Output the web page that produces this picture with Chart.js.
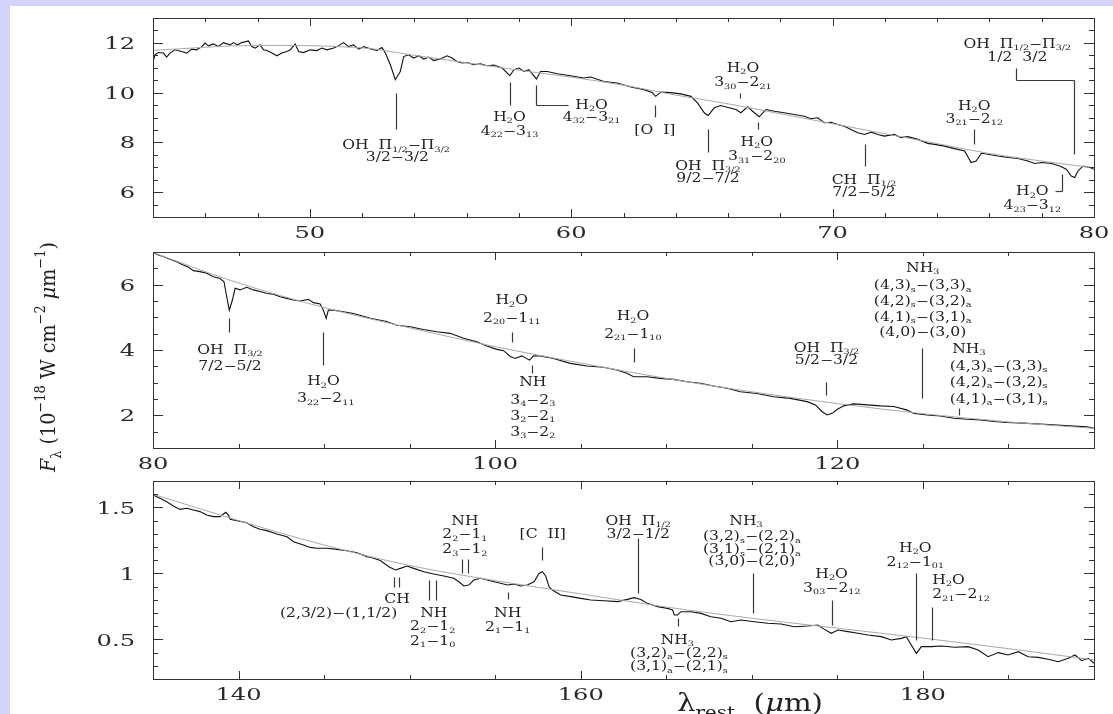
<!DOCTYPE html>
<html>
<head>
<meta charset="utf-8">
<script src="https://cdn.jsdelivr.net/npm/chart.js@4.4.1/dist/chart.umd.min.js"></script>
<style>
  html, body { margin: 0; padding: 0; }
  body { width: 1113px; height: 714px; background: #d3d3fb; position: relative; overflow: hidden; }
  #sheet { position: absolute; left: 10px; top: 6px; right: 0; bottom: 0; background: #fff; }
  canvas { position: absolute; left: 0; top: 0; }
</style>
</head>
<body>
<div id="sheet"></div>
<canvas id="c1" width="1113" height="714"></canvas>
<canvas id="c2" width="1113" height="714"></canvas>
<canvas id="c3" width="1113" height="714"></canvas>
<script>
// ---- panel 1 : 44-80 micron ----
const p1XRange = [44, 80];
const p1YRange = [5, 13];
const p1XTicks = [50, 60, 70, 80];
const p1YTicks = [6, 8, 10, 12];
const p1Wave = [44.00,44.08,44.20,44.40,44.52,44.65,44.84,45.10,45.29,45.48,45.67,45.87,45.99,46.12,46.31,46.50,46.69,46.95,47.08,47.23,47.40,47.65,47.78,47.91,48.10,48.23,48.36,48.55,48.74,48.93,49.12,49.25,49.44,49.57,49.76,50.02,50.27,50.46,50.66,50.91,51.04,51.29,51.48,51.67,51.87,52.06,52.31,52.57,52.76,52.89,53.08,53.27,53.46,53.59,53.78,53.97,54.17,54.36,54.55,54.74,54.99,55.25,55.44,55.63,55.83,56.02,56.27,56.53,56.78,57.04,57.36,57.65,57.81,58.00,58.19,58.38,58.67,58.83,59.08,59.47,59.98,60.49,60.74,61.25,61.76,62.28,62.79,63.11,63.23,63.43,63.81,64.19,64.58,64.83,65.09,65.24,65.47,65.72,66.04,66.30,66.49,66.75,66.94,67.19,67.45,67.77,68.15,68.53,68.92,69.17,69.43,69.68,69.94,70.19,70.45,70.70,70.96,71.22,71.47,71.73,71.98,72.36,72.62,72.88,73.26,73.64,73.90,74.28,74.66,75.05,75.30,75.49,75.69,75.94,76.32,76.71,77.09,77.47,77.73,77.98,78.37,78.69,78.94,79.13,79.26,79.39,79.58,79.84,80.00];
const p1Flux = [11.25,11.52,11.61,11.59,11.43,11.59,11.72,11.65,11.59,11.75,11.72,11.85,11.99,11.88,11.96,11.85,12.01,11.92,12.01,11.92,12.01,12.08,11.85,11.79,11.92,11.72,11.69,11.59,11.48,11.59,11.65,11.72,11.95,11.65,11.61,11.72,11.69,11.79,11.72,11.79,11.85,12.01,11.85,11.92,11.75,11.85,11.76,11.70,11.81,11.59,11.12,10.52,10.85,11.45,11.52,11.39,11.48,11.35,11.43,11.29,11.35,11.48,11.39,11.25,11.19,11.21,11.12,11.16,11.08,11.11,10.99,10.68,10.92,10.99,10.85,10.92,10.55,10.85,10.85,10.76,10.68,10.59,10.63,10.45,10.39,10.23,10.12,10.00,9.85,10.02,10.00,9.95,9.85,9.59,9.19,9.08,9.39,9.48,9.39,9.32,9.19,9.43,9.25,9.03,9.32,9.25,9.19,9.12,9.05,8.95,8.99,8.79,8.81,8.72,8.65,8.52,8.39,8.32,8.41,8.32,8.25,8.32,8.19,8.23,8.12,7.96,7.92,7.85,7.75,7.65,7.19,7.25,7.56,7.52,7.45,7.39,7.35,7.25,7.15,7.19,7.15,7.05,6.92,6.65,6.59,6.85,7.05,6.99,6.92];
const p1ContWave = [44, 48, 52, 54, 56, 58, 60, 62, 64, 66, 68, 70, 72, 74, 76, 78, 80];
const p1ContFlux = [11.7, 11.9, 11.8, 11.5, 11.2, 10.9, 10.62, 10.3, 9.9, 9.55, 9.15, 8.75, 8.35, 7.95, 7.55, 7.25, 6.97];
// line marks: [x1, y1, x2, y2] in micron / flux
const p1Marks = [
  [53.31, 10.0, 53.31, 8.52],
  [57.64, 10.44, 57.64, 9.52],
  [58.67, 10.32, 58.67, 9.52], [58.67, 9.52, 59.86, 9.52],
  [63.2, 9.52, 63.2, 9.04],
  [65.23, 8.52, 65.23, 7.6],
  [66.45, 10.0, 66.45, 9.8],
  [67.13, 8.8, 67.13, 8.52],
  [71.24, 7.92, 71.24, 7.04],
  [75.42, 8.52, 75.42, 7.92],
  [77.03, 11.0, 77.03, 10.52], [77.03, 10.52, 79.25, 10.52], [79.25, 10.52, 79.25, 7.52],
  [78.79, 6.72, 78.79, 6.04], [78.49, 6.04, 78.79, 6.04]
];
const p1Labels = [
  [53.3, 7.9, 'OH  Π_{1/2}−Π_{3/2}', 'c'],
  [53.35, 7.44, '3/2−3/2', 'c'],
  [57.64, 9.04, 'H_{2}O', 'c'],
  [57.64, 8.48, '4_{22}−3_{13}', 'c'],
  [60.78, 9.52, 'H_{2}O', 'c'],
  [60.78, 9.04, '4_{32}−3_{21}', 'c'],
  [63.2, 8.52, '[O  I]', 'c'],
  [65.23, 7.06, 'OH  Π_{3/2}', 'c'],
  [65.23, 6.58, '9/2−7/2', 'c'],
  [66.57, 11.0, 'H_{2}O', 'c'],
  [66.57, 10.42, '3_{30}−2_{21}', 'c'],
  [67.1, 8.04, 'H_{2}O', 'c'],
  [67.1, 7.46, '3_{31}−2_{20}', 'c'],
  [71.2, 6.5, 'CH  Π_{1/2}', 'c'],
  [71.2, 6.02, '7/2−5/2', 'c'],
  [75.42, 9.48, 'H_{2}O', 'c'],
  [75.42, 8.96, '3_{21}−2_{12}', 'c'],
  [77.07, 11.98, 'OH  Π_{1/2}−Π_{3/2}', 'c'],
  [77.07, 11.46, '1/2  3/2', 'c'],
  [77.64, 6.04, 'H_{2}O', 'c'],
  [77.64, 5.48, '4_{23}−3_{12}', 'c']
];

// ---- panel 2 : 80-135 micron ----
const p2XRange = [80, 135];
const p2YRange = [1, 7];
const p2XTicks = [80, 100, 120];
const p2YTicks = [2, 4, 6];
const p2Wave = [80.00,80.31,80.60,80.99,81.38,81.77,82.07,82.36,82.75,83.14,83.53,83.92,84.15,84.31,84.46,84.64,84.80,85.09,85.48,85.87,86.26,86.65,87.04,87.43,87.82,88.21,88.60,89.08,89.38,89.77,89.96,90.12,90.25,90.55,91.13,91.72,92.50,92.69,93.66,94.25,95.03,95.81,96.59,97.37,98.15,98.93,99.51,100.10,100.49,100.88,101.17,101.56,102.01,102.24,102.63,103.41,104.39,105.36,106.33,107.11,107.70,108.09,108.87,109.65,110.43,111.21,111.99,112.77,113.55,114.33,115.30,116.28,117.25,118.23,118.72,119.11,119.40,119.69,119.98,120.37,120.96,121.74,122.52,123.30,124.08,124.47,125.25,126.03,126.81,127.59,128.37,129.14,129.92,130.90,131.87,132.85,133.82,134.60,135.00];
const p2Flux = [6.98,6.91,6.86,6.78,6.70,6.60,6.53,6.43,6.40,6.35,6.24,6.19,6.09,5.63,5.22,5.53,5.89,5.84,5.92,5.84,5.79,5.73,5.71,5.63,5.58,5.53,5.50,5.55,5.45,5.41,5.22,4.97,5.22,5.22,5.17,5.12,5.00,4.97,4.87,4.76,4.71,4.63,4.56,4.51,4.36,4.25,4.12,4.02,3.98,3.80,3.74,3.82,3.69,3.82,3.82,3.74,3.59,3.51,3.47,3.39,3.29,3.18,3.18,3.13,3.10,3.03,2.98,2.90,2.83,2.72,2.67,2.57,2.52,2.42,2.32,2.11,2.01,2.06,2.18,2.29,2.35,2.32,2.29,2.27,2.16,2.06,2.01,1.98,1.91,1.88,1.86,1.81,1.78,1.76,1.73,1.70,1.67,1.65,1.60];
const p2ContWave = [80, 85, 90, 95, 100, 105, 110, 115, 120, 125, 130, 135];
const p2ContFlux = [6.98, 6.05, 5.3, 4.68, 4.1, 3.6, 3.13, 2.72, 2.36, 2.05, 1.8, 1.6];
const p2Marks = [
  [84.46, 4.97, 84.46, 4.56],
  [89.96, 4.55, 89.96, 3.54],
  [100.97, 4.56, 100.97, 4.25],
  [102.15, 3.54, 102.15, 3.31],
  [108.09, 4.05, 108.09, 3.64],
  [119.36, 3.03, 119.36, 2.62],
  [124.95, 4.05, 124.95, 2.52],
  [127.09, 2.22, 127.09, 2.01]
];
const p2Labels = [
  [84.5, 4.02, 'OH  Π_{3/2}', 'c'],
  [84.5, 3.52, '7/2−5/2', 'c'],
  [89.96, 3.05, 'H_{2}O', 'c'],
  [90.1, 2.53, '3_{22}−2_{11}', 'c'],
  [100.97, 5.53, 'H_{2}O', 'c'],
  [100.97, 5.0, '2_{20}−1_{11}', 'c'],
  [102.2, 3.04, 'NH', 'c'],
  [102.2, 2.49, '3_{4}−2_{3}', 'c'],
  [102.2, 1.99, '3_{2}−2_{1}', 'c'],
  [102.2, 1.50, '3_{3}−2_{2}', 'c'],
  [108.05, 5.04, 'H_{2}O', 'c'],
  [108.05, 4.50, '2_{21}−1_{10}', 'c'],
  [119.36, 4.08, 'OH  Π_{3/2}', 'c'],
  [119.36, 3.70, '5/2−3/2', 'c'],
  [124.99, 6.53, 'NH_{3}', 'c'],
  [124.99, 5.99, '(4,3)_{s}−(3,3)_{a}', 'c'],
  [124.99, 5.51, '(4,2)_{s}−(3,2)_{a}', 'c'],
  [124.99, 5.02, '(4,1)_{s}−(3,1)_{a}', 'c'],
  [124.99, 4.55, '(4,0)−(3,0)', 'c'],
  [126.71, 4.04, 'NH_{3}', 'l'],
  [126.57, 3.53, '(4,3)_{a}−(3,3)_{s}', 'l'],
  [126.57, 3.03, '(4,2)_{a}−(3,2)_{s}', 'l'],
  [126.57, 2.52, '(4,1)_{a}−(3,1)_{s}', 'l']
];

// ---- panel 3 : 135-190 micron ----
const p3XRange = [135, 190];
const p3YRange = [0.2, 1.7];
const p3XTicks = [140, 160, 180];
const p3YTicks = [0.5, 1, 1.5];
const p3Wave = [135.00,135.41,135.80,136.19,136.58,136.97,137.36,137.75,138.14,138.53,138.92,139.12,139.25,139.41,139.51,139.90,140.48,140.87,141.26,141.65,142.24,142.83,143.22,143.61,143.80,144.19,144.58,145.17,145.75,146.34,146.92,147.51,147.71,148.29,148.78,149.17,149.46,149.85,150.24,150.83,151.41,152.00,152.58,152.88,153.17,153.46,153.75,154.15,154.54,154.93,155.32,155.71,156.10,156.49,156.88,157.27,157.56,157.76,157.95,158.15,158.34,158.83,159.41,160.00,160.59,161.37,162.15,162.73,163.12,163.51,163.90,164.49,165.07,165.37,165.47,165.66,165.86,166.44,167.03,167.61,168.20,168.78,169.37,170.15,170.93,171.71,172.49,173.27,173.86,174.25,174.64,175.03,175.62,176.20,176.79,177.57,178.15,178.74,179.03,179.32,179.62,179.91,180.49,181.08,181.86,182.64,183.23,183.81,184.40,184.98,185.57,186.15,186.74,187.32,187.91,188.50,188.89,189.28,189.67,190.00];
const p3Flux = [1.594,1.569,1.543,1.511,1.485,1.493,1.480,1.468,1.442,1.430,1.430,1.450,1.463,1.442,1.410,1.400,1.384,1.354,1.334,1.324,1.298,1.278,1.240,1.223,1.215,1.197,1.190,1.190,1.182,1.172,1.157,1.127,1.122,1.097,1.051,1.026,1.038,1.056,1.038,1.013,0.995,0.980,0.963,0.937,0.905,0.912,0.950,0.963,0.950,0.937,0.925,0.912,0.920,0.905,0.912,0.937,1.000,1.013,0.980,0.900,0.874,0.836,0.824,0.811,0.798,0.793,0.786,0.803,0.816,0.803,0.773,0.748,0.735,0.723,0.685,0.685,0.710,0.710,0.697,0.672,0.660,0.634,0.647,0.634,0.622,0.617,0.596,0.601,0.609,0.576,0.546,0.571,0.559,0.546,0.533,0.521,0.496,0.508,0.521,0.458,0.394,0.445,0.445,0.450,0.440,0.445,0.420,0.369,0.400,0.382,0.407,0.369,0.364,0.349,0.331,0.357,0.382,0.339,0.357,0.319];
const p3ContWave = [135, 140, 145, 150, 155, 160, 165, 170, 175, 180, 185, 190];
const p3ContFlux = [1.6, 1.40, 1.215, 1.06, 0.945, 0.845, 0.745, 0.66, 0.585, 0.51, 0.43, 0.345];
const p3Marks = [
  [149.07, 0.975, 149.07, 0.90], [149.38, 0.975, 149.38, 0.90],
  [151.12, 0.95, 151.12, 0.80], [151.55, 0.95, 151.55, 0.80],
  [153.07, 1.107, 153.07, 1.0], [153.4, 1.107, 153.4, 1.0],
  [155.75, 0.861, 155.75, 0.804],
  [157.76, 1.202, 157.76, 1.10],
  [163.32, 1.266, 163.32, 0.849],
  [165.66, 0.66, 165.66, 0.60],
  [170.05, 1.0, 170.05, 0.70],
  [174.68, 0.80, 174.68, 0.61],
  [179.57, 1.0, 179.57, 0.495],
  [180.53, 0.748, 180.53, 0.495]
];
const p3Labels = [
  [149.26, 0.808, 'CH', 'c'],
  [145.85, 0.702, '(2,3/2)−(1,1/2)', 'c'],
  [151.41, 0.70, 'NH', 'c'],
  [151.35, 0.602, '2_{2}−1_{2}', 'c'],
  [151.35, 0.49, '2_{1}−1_{0}', 'c'],
  [153.23, 1.40, 'NH', 'c'],
  [153.23, 1.30, '2_{2}−1_{1}', 'c'],
  [153.23, 1.185, '2_{3}−1_{2}', 'c'],
  [155.73, 0.70, 'NH', 'c'],
  [155.73, 0.596, '2_{1}−1_{1}', 'c'],
  [157.78, 1.30, '[C  II]', 'c'],
  [163.36, 1.40, 'OH  Π_{1/2}', 'c'],
  [163.36, 1.30, '3/2−1/2', 'c'],
  [165.64, 0.50, 'NH_{3}', 'c'],
  [165.74, 0.40, '(3,2)_{a}−(2,2)_{s}', 'c'],
  [165.74, 0.30, '(3,1)_{a}−(2,1)_{s}', 'c'],
  [169.66, 1.40, 'NH_{3}', 'c'],
  [170.0, 1.285, '(3,2)_{s}−(2,2)_{a}', 'c'],
  [170.0, 1.185, '(3,1)_{s}−(2,1)_{a}', 'c'],
  [170.0, 1.096, '(3,0)−(2,0)', 'c'],
  [174.66, 1.0, 'H_{2}O', 'c'],
  [174.68, 0.895, '3_{03}−2_{12}', 'c'],
  [179.56, 1.198, 'H_{2}O', 'c'],
  [179.56, 1.089, '2_{12}−1_{01}', 'c'],
  [180.55, 0.955, 'H_{2}O', 'l'],
  [180.55, 0.844, '2_{21}−2_{12}', 'l']
];

const FONT = 'DejaVu Serif';
const INK = '#222';

// tiny rich text: _{sub}  ^{sup}  *{italic}
function richParts(s) {
  const out = [];
  let buf = '', i = 0;
  while (i < s.length) {
    const c = s[i];
    if ((c === '_' || c === '^' || c === '*') && s[i + 1] === '{') {
      if (buf) { out.push({ t: buf, m: 0 }); buf = ''; }
      const j = s.indexOf('}', i);
      out.push({ t: s.slice(i + 2, j), m: c === '_' ? 1 : c === '^' ? 2 : 3 });
      i = j + 1;
    } else { buf += c; i++; }
  }
  if (buf) out.push({ t: buf, m: 0 });
  return out;
}

function drawRich(ctx, s, x, y, o) {
  const size = o.size;
  const sub = o.sub || 0.62;
  const parts = richParts(s);
  const fontFor = p => {
    const sz = (p.m === 1 || p.m === 2) ? size * sub : size;
    return (p.m === 3 ? 'italic ' : '') + sz + 'px "' + FONT + '"';
  };
  let W = 0;
  parts.forEach(p => { ctx.font = fontFor(p); p.w = ctx.measureText(p.t).width; W += p.w; });
  const sx = o.width ? o.width / W : (o.sx || 1);
  ctx.save();
  ctx.translate(x, y);
  if (o.rot) ctx.rotate(o.rot);
  ctx.scale(sx, 1);
  let cx = o.align === 'l' ? 0 : o.align === 'r' ? -W : -W / 2;
  const base = size * 0.36;
  ctx.textBaseline = 'alphabetic';
  ctx.textAlign = 'left';
  ctx.fillStyle = o.color || INK;
  parts.forEach(p => {
    ctx.font = fontFor(p);
    const dy = p.m === 1 ? size * (o.drop || 0.2) : p.m === 2 ? -size * 0.45 : 0;
    ctx.fillText(p.t, cx, base + dy);
    cx += p.w;
  });
  ctx.restore();
}

function framePlugin(p) {
  return {
    id: 'frame' + p.id,
    afterDatasetsDraw(chart) {
      const ctx = chart.ctx, a = chart.chartArea;
      const xs = chart.scales.x, ys = chart.scales.y;
      const X = v => xs.getPixelForValue(v), Y = v => ys.getPixelForValue(v);
      ctx.save();

      // line identifications
      ctx.strokeStyle = '#3a3a3a';
      ctx.lineWidth = 1.2;
      p.marks.forEach(m => {
        ctx.beginPath();
        ctx.moveTo(Math.round(X(m[0])) + 0.5, Math.round(Y(m[1])) + 0.5);
        ctx.lineTo(Math.round(X(m[2])) + 0.5, Math.round(Y(m[3])) + 0.5);
        ctx.stroke();
      });
      p.labels.forEach(l => drawRich(ctx, l[2], X(l[0]), Y(l[1]), { size: 12, sx: 1.3, align: l[3] }));

      // box
      ctx.strokeStyle = '#333';
      ctx.lineWidth = 1;
      ctx.strokeRect(a.left + 0.5, a.top + 0.5, a.right - a.left, a.bottom - a.top);

      // inward ticks on all four sides
      const near = (arr, v, step) => arr.some(t => Math.abs(t - v) < step / 10);
      ctx.beginPath();
      const x0 = Math.ceil(p.xRange[0] / p.xMinor - 1e-6);
      const x1 = Math.floor(p.xRange[1] / p.xMinor + 1e-6);
      for (let k = x0; k <= x1; k++) {
        const v = k * p.xMinor, px = Math.round(X(v)) + 0.5;
        const len = near(p.xTicks, v, p.xMinor) ? 8 : 4;
        ctx.moveTo(px, a.bottom); ctx.lineTo(px, a.bottom - len);
        ctx.moveTo(px, a.top); ctx.lineTo(px, a.top + len);
      }
      const y0 = Math.ceil(p.yRange[0] / p.yMinor - 1e-6);
      const y1 = Math.floor(p.yRange[1] / p.yMinor + 1e-6);
      for (let k = y0; k <= y1; k++) {
        const v = k * p.yMinor, py = Math.round(Y(v)) + 0.5;
        const len = near(p.yTicks, v, p.yMinor) ? 10 : 5;
        ctx.moveTo(a.left, py); ctx.lineTo(a.left + len, py);
        ctx.moveTo(a.right, py); ctx.lineTo(a.right - len, py);
      }
      ctx.stroke();

      // tick labels
      p.xTicks.forEach(v => drawRich(ctx, String(v), X(v), a.bottom + 15, { size: 17, sx: 1.42, color: '#2a2a2a' }));
      p.yTicks.forEach(v => drawRich(ctx, String(v), a.left - 18, Y(v), { size: 17, sx: 1.42, align: 'r', color: '#2a2a2a' }));

      if (p.titles) {
        drawRich(ctx, '*{F}_{λ} (10^{−18} W cm^{−2} *{μ}m^{−1})', 47, 357, { size: 21, width: 230, rot: -Math.PI / 2, sub: 0.68, drop: 0.3 });
        drawRich(ctx, 'λ_{rest}  (*{μ}m)', 677, 702, { size: 24, width: 146, align: 'l', sub: 0.68, drop: 0.32 });
      }
      ctx.restore();
    }
  };
}

const panels = [
  { id: 'c1', wave: p1Wave, flux: p1Flux, contWave: p1ContWave, contFlux: p1ContFlux, xRange: p1XRange, yRange: p1YRange,
    xTicks: p1XTicks, yTicks: p1YTicks, xMinor: 2, yMinor: 0.5, marks: p1Marks, labels: p1Labels, top: 18, bottom: 217 },
  { id: 'c2', wave: p2Wave, flux: p2Flux, contWave: p2ContWave, contFlux: p2ContFlux, xRange: p2XRange, yRange: p2YRange,
    xTicks: p2XTicks, yTicks: p2YTicks, xMinor: 5, yMinor: 0.5, marks: p2Marks, labels: p2Labels, top: 252, bottom: 448 },
  { id: 'c3', wave: p3Wave, flux: p3Flux, contWave: p3ContWave, contFlux: p3ContFlux, xRange: p3XRange, yRange: p3YRange,
    xTicks: p3XTicks, yTicks: p3YTicks, xMinor: 5, yMinor: 0.1, marks: p3Marks, labels: p3Labels, top: 481, bottom: 679, titles: true }
];

panels.forEach(p => {
  const spec = p.wave.map((w, i) => ({ x: w, y: p.flux[i] }));
  const cont = p.contWave.map((w, i) => ({ x: w, y: p.contFlux[i] }));
  new Chart(document.getElementById(p.id), {
    type: 'scatter',
    data: {
      datasets: [
        { data: cont, showLine: true, borderColor: '#a9a9a9', borderWidth: 1, pointRadius: 0, cubicInterpolationMode: 'monotone', tension: 0.4 },
        { data: spec, showLine: true, borderColor: '#111', borderWidth: 1.1, pointRadius: 0 }
      ]
    },
    options: {
      responsive: false,
      animation: false,
      devicePixelRatio: 1,
      events: [],
      layout: { padding: { left: 0, right: 19, top: p.top, bottom: 0 } },
      plugins: { legend: { display: false }, tooltip: { enabled: false } },
      scales: {
        x: {
          type: 'linear', min: p.xRange[0], max: p.xRange[1],
          grid: { display: false }, border: { display: false }, ticks: { display: false },
          afterFit: s => { s.height = 714 - p.bottom; }
        },
        y: {
          type: 'linear', min: p.yRange[0], max: p.yRange[1],
          grid: { display: false }, border: { display: false }, ticks: { display: false },
          afterFit: s => { s.width = 153; }
        }
      }
    },
    plugins: [framePlugin(p)]
  });
});
</script>
</body>
</html>
